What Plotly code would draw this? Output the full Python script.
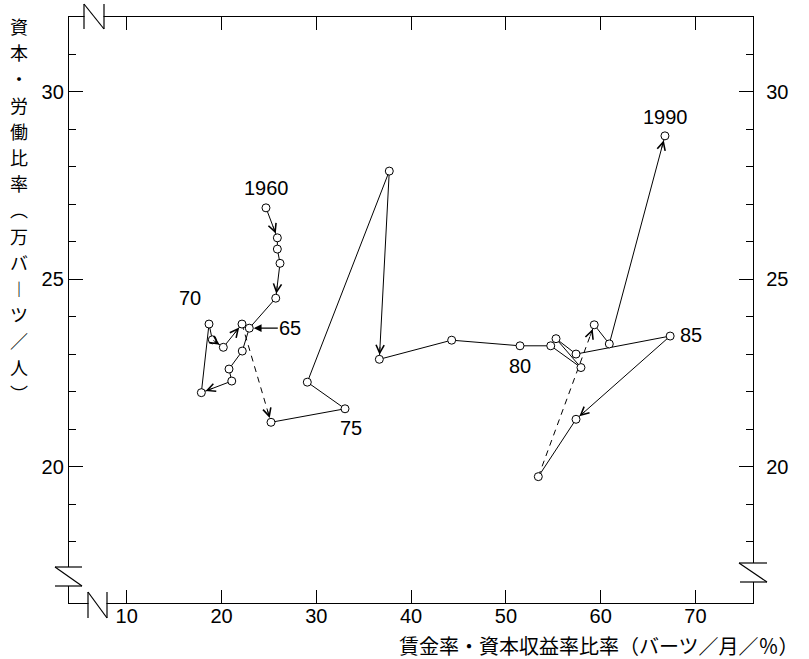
import math
import plotly.graph_objects as go

# ---------------- data ----------------
years = list(range(1960, 1991))
wage_rental = [24.69, 25.89, 25.89, 26.17, 25.72, 22.93, 22.19, 20.79, 21.08, 17.87,
               18.68, 19.03, 20.19, 22.16, 25.22, 33.03, 29.05, 37.70, 36.65, 44.28,
               51.49, 54.73, 57.92, 55.29, 57.40, 67.33, 57.40, 53.42, 59.32, 60.91, 66.78]
capital_labor = [26.91, 26.11, 25.81, 25.43, 24.50, 23.70, 23.09, 22.61, 22.29, 21.98,
                 23.81, 23.39, 23.19, 23.81, 21.19, 21.55, 22.26, 27.89, 22.87, 23.38,
                 23.23, 23.23, 22.65, 23.42, 23.01, 23.49, 21.27, 19.74, 23.79, 23.28, 28.83]
dashed_from_years = [1973, 1987]
arrow_years = [1961, 1964, 1969, 1972, 1973, 1974, 1978, 1986, 1988, 1990]
label_years = [1960, 1970, 1975, 1980, 1985, 1990]
label_texts = ["1960", "70", "75", "80", "85", "1990"]
pointer_year = 1965
pointer_text = "65"
x_tick_vals = [10, 20, 30, 40, 50, 60, 70]
y_tick_vals = [20, 25, 30]
x_title = "賃金率・資本収益率比率（バーツ／月／％）"
# vertical setting of 資本・労働比率（万バーツ／人）
y_title_chars = ["資", "本", "・", "労", "働", "比", "率", "︵", "万", "バ", "︱", "ツ", "／", "人", "︶"]

# ---------------- layout geometry ----------------
W, H = 809, 659
ML, MR, MT, MB = 69, 56, 17, 56
PW, PH = W - ML - MR, H - MT - MB
X_RANGE = [3.91, 76.07]
Y_RANGE = [16.37, 32.0]
SX = PW / (X_RANGE[1] - X_RANGE[0])
SY = PH / (Y_RANGE[1] - Y_RANGE[0])

LAT = "Liberation Sans, Arial, Helvetica, sans-serif"
CJK = "Noto Sans CJK JP, sans-serif"


def px(X):
    return (X - ML) / PW


def py(Y):
    return (MT + PH - Y) / PH


# ---------------- traces ----------------
sx_, sy_, dx_, dy_ = [], [], [], []
for i in range(len(years) - 1):
    tx, ty = (dx_, dy_) if years[i] in dashed_from_years else (sx_, sy_)
    tx += [wage_rental[i], wage_rental[i + 1], None]
    ty += [capital_labor[i], capital_labor[i + 1], None]

fig = go.Figure()
fig.add_trace(go.Scatter(x=sx_, y=sy_, mode="lines",
                         line=dict(color="black", width=1), hoverinfo="skip", showlegend=False))
fig.add_trace(go.Scatter(x=dx_, y=dy_, mode="lines",
                         line=dict(color="black", width=1, dash="6px,5px"),
                         hoverinfo="skip", showlegend=False))
fig.add_trace(go.Scatter(x=wage_rental, y=capital_labor, mode="markers",
                         marker=dict(symbol="circle", size=8, color="white",
                                     line=dict(color="black", width=1)),
                         text=[str(y) for y in years], showlegend=False))
# invisible trace to bring up the right-hand axis
fig.add_trace(go.Scatter(x=[wage_rental[0]], y=[capital_labor[0]], yaxis="y2", mode="markers",
                         marker=dict(opacity=0), hoverinfo="skip", showlegend=False))

annotations = []
# direction arrowheads
ARROW_LEN = 14
for yr in arrow_years:
    i = years.index(yr)
    ddx = (wage_rental[i - 1] - wage_rental[i]) * SX
    ddy = (capital_labor[i - 1] - capital_labor[i]) * SY
    n = math.hypot(ddx, ddy)
    annotations.append(dict(x=wage_rental[i], y=capital_labor[i], xref="x", yref="y",
                            ax=ddx / n * ARROW_LEN, ay=-ddy / n * ARROW_LEN,
                            showarrow=True, arrowhead=5, arrowsize=2.0, arrowwidth=0.8,
                            arrowcolor="black", standoff=4.5, text=""))

# year labels
label_offsets = {1960: (1, 20), 1970: (-19, 26), 1975: (6, -19),
                 1980: (0, -20), 1985: (21, 1), 1990: (1, 19)}
for yr, t in zip(label_years, label_texts):
    i = years.index(yr)
    xs, ys = label_offsets[yr]
    annotations.append(dict(x=wage_rental[i], y=capital_labor[i], xref="x", yref="y",
                            text=t, showarrow=False, xshift=xs, yshift=ys,
                            font=dict(family=LAT, size=20, color="black")))

# "←65" pointer
i65 = years.index(pointer_year)
annotations.append(dict(x=wage_rental[i65], y=capital_labor[i65], xref="x", yref="y",
                        text=pointer_text, showarrow=True, ax=41, ay=0,
                        arrowhead=2, arrowsize=1.2, arrowwidth=1.3, arrowcolor="black",
                        standoff=4.5, font=dict(family=LAT, size=20, color="black")))

# x-axis title
annotations.append(dict(x=px(801), y=py(645), xref="paper", yref="paper",
                        xanchor="right", yanchor="middle", text=x_title, showarrow=False,
                        font=dict(family=CJK, size=20, color="black")))
# y-axis title, one character per row
Y_TOP, Y_STEP = 26, 26.2
for k, ch in enumerate(y_title_chars):
    annotations.append(dict(x=px(19), y=py(Y_TOP + k * Y_STEP), xref="paper", yref="paper",
                            xanchor="center", yanchor="middle", text=ch, showarrow=False,
                            font=dict(family=CJK, size=18, color="black")))

# ---------------- axis breaks ----------------
shapes = []


def rect(x0, y0, x1, y1):
    shapes.append(dict(type="rect", xref="paper", yref="paper", layer="above",
                       x0=px(x0), x1=px(x1), y0=py(y0), y1=py(y1),
                       fillcolor="white", line=dict(width=0)))


def seg(x0, y0, x1, y1):
    shapes.append(dict(type="line", xref="paper", yref="paper", layer="above",
                       x0=px(x0), x1=px(x1), y0=py(y0), y1=py(y1),
                       line=dict(color="black", width=1.2)))


# left axis break
rect(56, 567, 80, 586)
seg(55, 567, 82, 567); seg(55, 567, 82, 586); seg(55, 586, 82, 586)
# right axis break
rect(744, 563, 762, 582)
seg(739, 563, 767, 563); seg(739, 563, 767, 582); seg(740, 582, 767, 582)
# bottom axis break
rect(88.5, 598, 106.5, 608)
seg(88, 592, 88, 618); seg(88, 592, 107, 618); seg(107, 592, 107, 618)
# top axis break
rect(84.5, 12, 103.5, 22)
seg(84, 4, 84, 29); seg(84, 4, 104, 29); seg(104, 4, 104, 29)

# ---------------- layout ----------------
tickfont = dict(family=LAT, size=20, color="black")
fig.update_layout(
    width=W, height=H,
    margin=dict(l=ML, r=MR, t=MT, b=MB, pad=0),
    paper_bgcolor="white", plot_bgcolor="white",
    showlegend=False,
    annotations=annotations, shapes=shapes,
    xaxis=dict(range=X_RANGE, tickvals=x_tick_vals, ticks="inside", ticklen=13,
               tickwidth=1, tickcolor="black", showline=True, linecolor="black",
               linewidth=1.3, mirror="ticks", showgrid=False, zeroline=False,
               tickfont=tickfont, ticklabelstandoff=-5),
    yaxis=dict(range=Y_RANGE, tickvals=y_tick_vals, ticks="inside", ticklen=14,
               tickwidth=1, tickcolor="black", showline=True, linecolor="black",
               linewidth=1.3, showgrid=False, zeroline=False, tickfont=tickfont,
               ticklabelstandoff=0,
               minor=dict(dtick=1, tick0=0, ticks="inside", ticklen=7,
                          tickwidth=1, tickcolor="black", showgrid=False)),
    yaxis2=dict(range=Y_RANGE, tickvals=y_tick_vals, overlaying="y", side="right",
                ticks="inside", ticklen=14, tickwidth=1, tickcolor="black",
                showline=True, linecolor="black", linewidth=1.3, showgrid=False,
                zeroline=False, tickfont=tickfont, ticklabelstandoff=8,
                minor=dict(dtick=1, tick0=0, ticks="inside", ticklen=7,
                           tickwidth=1, tickcolor="black", showgrid=False)),
)

fig.write_html("out.html", config={"displayModeBar": False},
               post_script="document.body.style.margin='0';")
